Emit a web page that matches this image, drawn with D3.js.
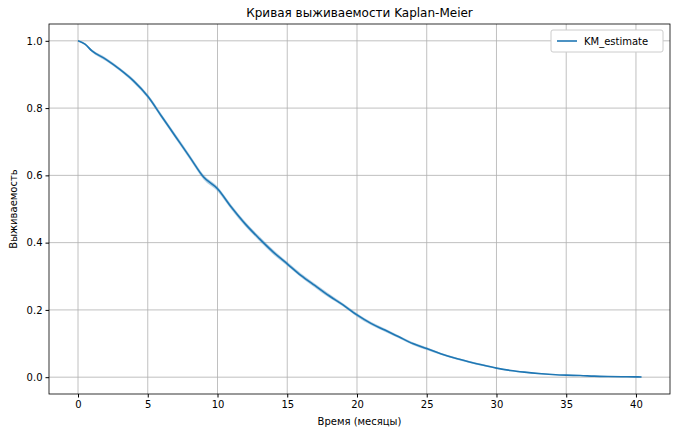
<!DOCTYPE html><html><head><meta charset="utf-8"><script src="https://cdn.jsdelivr.net/npm/d3@7"></script>
<style>body{margin:0;background:#fff}text{font-family:"DejaVu Sans",sans-serif}</style></head><body><svg id="c" width="674" height="431"></svg>
<script>
const times=[0,0.5,1,2,3,4,5,6,7,8,9,10,11,12,13,14,15,16,17,18,19,20,21,22,23,24,25,26,27,28,29,30,31,32,33,34,35,36,37,38,39,40,40.4];
const survival=[1,0.99,0.97,0.945,0.915,0.88,0.835,0.775,0.715,0.655,0.595,0.56,0.505,0.455,0.412,0.372,0.337,0.302,0.272,0.242,0.215,0.185,0.16,0.14,0.12,0.1,0.085,0.07,0.057,0.046,0.036,0.027,0.02,0.015,0.011,0.008,0.006,0.005,0.003,0.002,0.0015,0.001,0.0005];
const ciHalf=[0,0.003,0.004,0.005,0.005,0.006,0.006,0.007,0.007,0.007,0.007,0.007,0.007,0.007,0.007,0.007,0.006,0.006,0.006,0.006,0.005,0.005,0.005,0.005,0.004,0.004,0.004,0.003,0.003,0.003,0.003,0.002,0.002,0.002,0.002,0.001,0.001,0.001,0.001,0.001,0.001,0.001,0.001];
const xTicks=[0,5,10,15,20,25,30,35,40], yTicks=[0,0.2,0.4,0.6,0.8,1.0];
const L=49,R=670,T=24,B=394;
const svg=d3.select("#c");
const x=d3.scaleLinear().domain([-2.08,42.44]).range([L,R]);
const y=d3.scaleLinear().domain([-0.05,1.05]).range([B,T]);
const data=times.map((t,i)=>({t,s:survival[i],h:ciHalf[i]}));
const g=svg.append("g");
xTicks.forEach(v=>g.append("line").attr("x1",x(v)).attr("x2",x(v)).attr("y1",T).attr("y2",B).attr("stroke","#b0b0b0").attr("stroke-width",0.8));
yTicks.forEach(v=>g.append("line").attr("y1",y(v)).attr("y2",y(v)).attr("x1",L).attr("x2",R).attr("stroke","#b0b0b0").attr("stroke-width",0.8));
svg.append("path").datum(data).attr("fill","#1f77b4").attr("opacity",0.35)
 .attr("d",d3.area().x(d=>x(d.t)).y0(d=>y(d.s-d.h)).y1(d=>y(d.s+d.h)).curve(d3.curveMonotoneX));
svg.append("path").datum(data).attr("fill","none").attr("stroke","#1f77b4").attr("stroke-width",1.6)
 .attr("d",d3.line().x(d=>x(d.t)).y(d=>y(d.s)).curve(d3.curveMonotoneX));
svg.append("rect").attr("x",L).attr("y",T).attr("width",R-L).attr("height",B-T).attr("fill","none").attr("stroke","#000").attr("stroke-width",0.8);
const xa=svg.append("g").attr("transform",`translate(0,${B})`).call(d3.axisBottom(x).tickValues(xTicks).tickSize(3.5).tickSizeOuter(0).tickFormat(d3.format("d")));
const ya=svg.append("g").attr("transform",`translate(${L},0)`).call(d3.axisLeft(y).tickValues(yTicks).tickSize(3.5).tickSizeOuter(0).tickFormat(d3.format(".1f")));
[xa,ya].forEach(a=>{a.select(".domain").remove();a.selectAll("text").attr("font-size",10).attr("fill","#000").attr("font-family","DejaVu Sans");});
svg.append("text").attr("x",(L+R)/2).attr("y",17).attr("text-anchor","middle").attr("font-size",12).text("Кривая выживаемости Kaplan-Meier");
svg.append("text").attr("x",(L+R)/2).attr("y",425).attr("text-anchor","middle").attr("font-size",10).text("Время (месяцы)");
svg.append("text").attr("transform",`translate(17,${(T+B)/2}) rotate(-90)`).attr("text-anchor","middle").attr("font-size",10).text("Выживаемость");
const lg=svg.append("g");
lg.append("rect").attr("x",551).attr("y",30).attr("width",112).attr("height",22).attr("rx",2).attr("fill","#fff").attr("stroke","#ccc");
lg.append("line").attr("x1",557).attr("x2",577).attr("y1",41).attr("y2",41).attr("stroke","#1f77b4").attr("stroke-width",1.6);
lg.append("text").attr("x",584).attr("y",45).attr("font-size",10).text("KM_estimate");
</script></body></html>
